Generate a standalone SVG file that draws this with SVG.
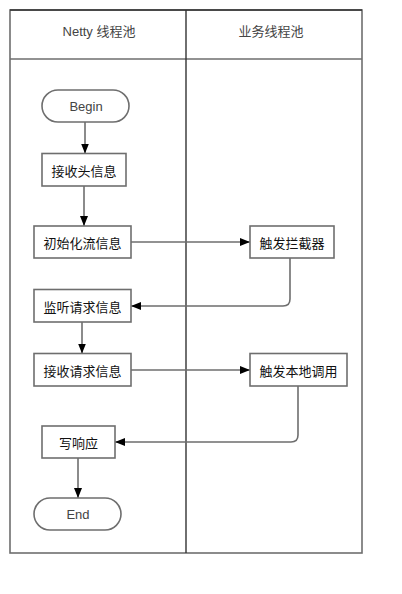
<svg xmlns="http://www.w3.org/2000/svg" width="402" height="594" viewBox="0 0 402 594">
<style>
.frame{fill:none;stroke:#6e6e6e;stroke-width:1.6}
.dark{fill:none;stroke:#333;stroke-width:1.4}
.box{fill:#fff;stroke:#6e6e6e;stroke-width:1.6}
.conn{fill:none;stroke:#6e6e6e;stroke-width:1.6}
.t{font-family:"Noto Sans CJK SC","Liberation Sans",sans-serif;font-size:13px;fill:#111;text-anchor:middle;dominant-baseline:central}
.h{font-family:"Liberation Sans","Noto Sans CJK SC",sans-serif;font-size:13px;fill:#444;text-anchor:middle;dominant-baseline:central}
.e{font-family:"Liberation Sans",sans-serif;font-size:13px;fill:#444;text-anchor:middle;dominant-baseline:central}
</style>
<defs>
<marker id="arr" markerWidth="10" markerHeight="8" refX="10" refY="4" orient="auto" markerUnits="userSpaceOnUse">
<path d="M0,0 L10,4 L0,8 Z" fill="#000"/>
</marker>
</defs>
<rect width="402" height="594" fill="#fff"/>
<g id="swimlanes">
<rect class="frame" x="10" y="10" width="352" height="543"/>
<line class="dark" x1="10" y1="10" x2="362" y2="10"/>
<line class="frame" x1="10" y1="59" x2="362" y2="59"/>
<line class="dark" x1="186" y1="10" x2="186" y2="553"/>
<text class="h" x="99" y="31">Netty 线程池</text>
<text class="h" x="271" y="31">业务线程池</text>
</g>
<g id="connectors">
<line class="conn" x1="85" y1="122" x2="85" y2="153.5" marker-end="url(#arr)"/>
<line class="conn" x1="84" y1="186" x2="84" y2="226" marker-end="url(#arr)"/>
<line class="conn" x1="131" y1="242" x2="250" y2="242" marker-end="url(#arr)"/>
<path class="conn" d="M290,258 L290,299 Q290,306 283,306 L131,306" marker-end="url(#arr)"/>
<line class="conn" x1="82" y1="322" x2="82" y2="353.5" marker-end="url(#arr)"/>
<line class="conn" x1="131" y1="370" x2="250" y2="370" marker-end="url(#arr)"/>
<path class="conn" d="M298,386 L298,435 Q298,442 291,442 L115,442" marker-end="url(#arr)"/>
<line class="conn" x1="78" y1="458" x2="78" y2="498" marker-end="url(#arr)"/>
</g>
<g id="begin">
<rect class="box" x="42" y="90" width="87" height="32" rx="16"/>
<text class="e" x="86" y="106">Begin</text>
</g>
<g id="recv-head">
<rect class="box" x="42" y="153.5" width="84" height="32.5"/>
<text class="t" x="84" y="170">接收头信息</text>
</g>
<g id="init-stream">
<rect class="box" x="34" y="226" width="97" height="32"/>
<text class="t" x="82.5" y="242">初始化流信息</text>
</g>
<g id="interceptor">
<rect class="box" x="250" y="226" width="84" height="32"/>
<text class="t" x="292" y="242">触发拦截器</text>
</g>
<g id="listen-req">
<rect class="box" x="34" y="289.5" width="97" height="32.5"/>
<text class="t" x="82.5" y="306">监听请求信息</text>
</g>
<g id="recv-req">
<rect class="box" x="34" y="353.5" width="97" height="32.5"/>
<text class="t" x="82.5" y="370">接收请求信息</text>
</g>
<g id="local-call">
<rect class="box" x="250" y="353.5" width="97" height="32.5"/>
<text class="t" x="298.5" y="370">触发本地调用</text>
</g>
<g id="write-resp">
<rect class="box" x="42" y="426" width="73" height="32"/>
<text class="t" x="78.5" y="442">写响应</text>
</g>
<g id="end">
<rect class="box" x="34" y="498" width="87" height="32" rx="16"/>
<text class="e" x="78" y="514">End</text>
</g>
</svg>
